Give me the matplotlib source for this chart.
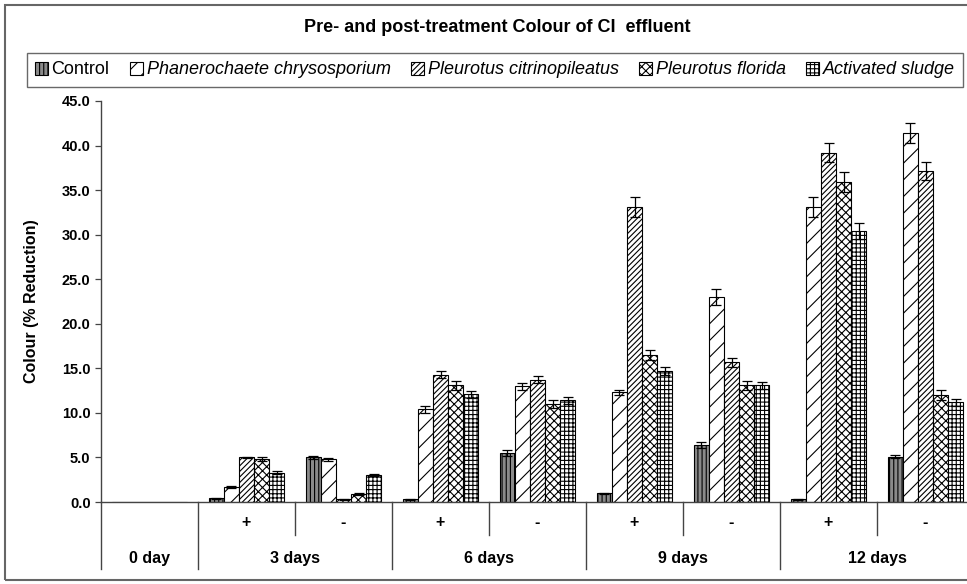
import matplotlib
matplotlib.use("Agg")
import matplotlib.pyplot as plt
import matplotlib.transforms as mtransforms
from matplotlib.patches import Rectangle
import numpy as np

plt.rcParams['font.family'] = ['Liberation Sans', 'DejaVu Sans']
plt.rcParams['hatch.linewidth'] = 0.8

categories = ["0 day", "3+", "3-", "6+", "6-", "9+", "9-", "12+", "12-"]
sub_labels = ["", "+", "-", "+", "-", "+", "-", "+", "-"]
day_labels = ["0 day", "3 days", "6 days", "9 days", "12 days"]
series = ["Control", "Phanerochaete chrysosporium", "Pleurotus citrinopileatus",
          "Pleurotus florida", "Activated sludge"]

control = [0, 0.4, 5.0, 0.3, 5.5, 1.0, 6.4, 0.3, 5.1]
phanerochaete = [0, 1.7, 4.8, 10.4, 13.0, 12.3, 23.0, 33.1, 41.4]
citrinopileatus = [0, 5.0, 0.3, 14.3, 13.7, 33.1, 15.7, 39.2, 37.1]
florida = [0, 4.8, 0.9, 13.1, 11.0, 16.5, 13.1, 35.9, 12.0]
sludge = [0, 3.3, 3.0, 12.1, 11.4, 14.7, 13.1, 30.4, 11.2]

control_err = [0, 0.05, 0.2, 0.05, 0.3, 0.05, 0.3, 0.05, 0.2]
phanerochaete_err = [0, 0.1, 0.15, 0.4, 0.4, 0.3, 0.9, 1.1, 1.1]
citrinopileatus_err = [0, 0.1, 0.05, 0.4, 0.4, 1.1, 0.5, 1.1, 1.0]
florida_err = [0, 0.2, 0.1, 0.5, 0.4, 0.6, 0.5, 1.1, 0.6]
sludge_err = [0, 0.15, 0.1, 0.4, 0.4, 0.5, 0.4, 0.9, 0.4]

values = [control, phanerochaete, citrinopileatus, florida, sludge]
errors = [control_err, phanerochaete_err, citrinopileatus_err, florida_err, sludge_err]
styles = [
    dict(facecolor='#8a8a8a', hatch='||||'),
    dict(facecolor='white', hatch='//'),
    dict(facecolor='white', hatch='//////'),
    dict(facecolor='white', hatch='xxxx'),
    dict(facecolor='white', hatch='++++'),
]

W, H = 967, 584
fig = plt.figure(figsize=(W / 100, H / 100), dpi=100)
ax = fig.add_axes([101 / W, 1 - 502 / H, 873 / W, 401 / H])

x = np.arange(len(categories))
bw = 0.155
handles = []
for i, (vals, errs, st) in enumerate(zip(values, errors, styles)):
    pos = x + (i - 2) * bw
    b = ax.bar(pos, vals, bw, edgecolor='black', linewidth=0.8, label=series[i], **st)
    handles.append(b)
    e = np.array(errs)
    v = np.array(vals)
    mask = v > 0
    ax.errorbar(pos[mask], v[mask], yerr=e[mask], fmt='none', ecolor='black',
                elinewidth=0.9, capsize=3.5, capthick=0.9)

ax.set_xlim(-0.5, len(categories) - 0.5)
ax.set_ylim(0, 45)
ax.set_yticks(np.arange(0, 45.1, 5))
ax.set_yticklabels([f"{t:.1f}" for t in np.arange(0, 45.1, 5)], fontsize=10.5, fontweight='bold')
ax.set_xticks([])
ax.tick_params(axis='y', direction='out', length=4, width=0.9, color='#444')
for s in ['top', 'right']:
    ax.spines[s].set_visible(False)
for s in ['left', 'bottom']:
    ax.spines[s].set_color('#444')
    ax.spines[s].set_linewidth(1.0)

ax.set_ylabel("Colour (% Reduction)", fontsize=11.5, fontweight='bold', labelpad=16)

trans = mtransforms.blended_transform_factory(ax.transData, ax.transAxes)
for i, lab in enumerate(sub_labels):
    if lab:
        ax.text(i, -0.052, lab, transform=trans, ha='center', va='center',
                fontsize=11.5, fontweight='bold')
for i in [2, 4, 6, 8]:
    ax.plot([i - 0.5, i - 0.5], [0, -0.082], transform=trans, color='#444', lw=1.0, clip_on=False)
for b in [0, 1, 3, 5, 7]:
    ax.plot([b - 0.5, b - 0.5], [0, -0.168], transform=trans, color='#444', lw=1.0, clip_on=False)
day_centers = [0, 1.5, 3.5, 5.5, 7.5]
for c, lab in zip(day_centers, day_labels):
    ax.text(c, -0.14, lab, transform=trans, ha='center', va='center',
            fontsize=11.5, fontweight='bold')

fig.text(497 / W, 1 - 28 / H, "Pre- and post-treatment Colour of CI  effluent",
         ha='center', va='center', fontsize=13, fontweight='bold')

leg = fig.legend(handles=handles, labels=series, loc='center', ncol=5,
                 bbox_to_anchor=(495 / W, 1 - 70 / H), frameon=True, fancybox=False,
                 fontsize=13, handlelength=0.7, handleheight=0.7, handletextpad=0.2,
                 columnspacing=1.15, borderpad=0.45, edgecolor='#444')
leg.get_frame().set_linewidth(1.0)
for t in leg.get_texts()[1:]:
    t.set_fontstyle('italic')

fig.patches.append(Rectangle((5 / W, 1 - 580 / H), 1.2, 575 / H, transform=fig.transFigure,
                             fill=False, edgecolor='#666', linewidth=1.5))

fig.savefig("out.png", dpi=100)
